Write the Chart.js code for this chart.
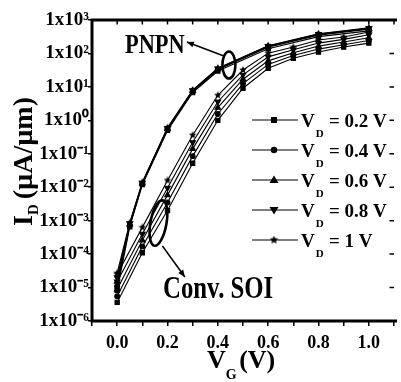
<!DOCTYPE html>
<html><head><meta charset="utf-8">
<script src="https://cdn.jsdelivr.net/npm/chart.js@4.4.0/dist/chart.umd.min.js"></script>
<style>html,body{margin:0;padding:0;background:#fff;}#c{display:block;}</style>
</head><body>
<canvas id="c" width="401" height="382"></canvas>
<script>
// ---- data ----
const vdLabels = ['0.2', '0.4', '0.6', '0.8', '1'];
const vgPNPN = [0, 0.05, 0.1, 0.2, 0.3, 0.4, 0.6, 0.8, 1.0];
const idPNPN_02 = [8.3e-6, 6.6e-4, 1.2e-2, 0.50, 6.8, 30, 138, 320, 470];
const idPNPN_04 = [1.1e-5, 7.3e-4, 1.25e-2, 0.54, 7.3, 33, 155, 355, 530];
const idPNPN_06 = [1.5e-5, 7.8e-4, 1.3e-2, 0.56, 7.6, 34, 162, 368, 552];
const idPNPN_08 = [2.0e-5, 8.2e-4, 1.35e-2, 0.58, 7.8, 35, 166, 376, 565];
const idPNPN_10 = [2.7e-5, 8.6e-4, 1.4e-2, 0.60, 8.0, 36, 170, 385, 580];
const vgSOI = [0, 0.1, 0.2, 0.3, 0.4, 0.5, 0.6, 0.7, 0.8, 0.9, 1.0];
const idSOI_02 = [3.6e-6, 1.1e-4, 2.0e-3, 5.2e-2, 1.0, 9.1, 36, 72, 110, 155, 204];
const idSOI_04 = [5.5e-6, 1.7e-4, 3.5e-3, 8.5e-2, 1.55, 12.6, 47, 87, 135, 182, 245];
const idSOI_06 = [8.9e-6, 2.6e-4, 5.8e-3, 0.14, 2.4, 17, 60, 105, 166, 219, 295];
const idSOI_08 = [1.5e-5, 4.0e-4, 9.5e-3, 0.22, 3.6, 23, 79, 129, 204, 263, 363];
const idSOI_10 = [2.5e-5, 6.3e-4, 1.6e-2, 0.36, 5.6, 32, 102, 155, 251, 309, 437];
const yTickValues = [1e-6, 1e-5, 1e-4, 1e-3, 1e-2, 1e-1, 1, 1e1, 1e2, 1e3];
const yTickExponents = ['-6', '-5', '-4', '-3', '-2', '-1', '0', '1', '2', '3'];
const xTickValues = [-0.1, 0, 0.1, 0.2, 0.3, 0.4, 0.5, 0.6, 0.7, 0.8, 0.9, 1.0, 1.1];
const xLabelValues = [0, 0.2, 0.4, 0.6, 0.8, 1.0];
const xTickLabels = ['0.0', '0.2', '0.4', '0.6', '0.8', '1.0'];

const FONT = "'Liberation Serif','Times New Roman',serif";
const SUP = {'-':'\u207B','0':'\u2070','1':'\u00B9','2':'\u00B2','3':'\u00B3','4':'\u2074','5':'\u2075','6':'\u2076','7':'\u2077','8':'\u2078','9':'\u2079'};
const toSup = s => s.split('').map(c => SUP[c]).join('');

function makeStar(size) {
  const c = document.createElement('canvas');
  c.width = size; c.height = size;
  const g = c.getContext('2d');
  const cx = size / 2, cy = size / 2, R = size / 2, r = R * 0.45;
  g.beginPath();
  for (let i = 0; i < 10; i++) {
    const a = -Math.PI / 2 + i * Math.PI / 5;
    const rr = i % 2 ? r : R;
    g.lineTo(cx + rr * Math.cos(a), cy + rr * Math.sin(a));
  }
  g.closePath(); g.fillStyle = '#000'; g.fill();
  return c;
}
const starSmall = makeStar(8);
const starLegend = makeStar(9);

const markers = [
  {pointStyle: 'rect', pointRadius: 3},
  {pointStyle: 'circle', pointRadius: 2.4},
  {pointStyle: 'triangle', pointRadius: 3.2},
  {pointStyle: 'triangle', pointRadius: 3.2, pointRotation: 180},
  {pointStyle: starSmall, pointRadius: 4}
];
const pnpnSeries = [idPNPN_02, idPNPN_04, idPNPN_06, idPNPN_08, idPNPN_10];
const soiSeries = [idSOI_02, idSOI_04, idSOI_06, idSOI_08, idSOI_10];

const datasets = [];
pnpnSeries.forEach((arr, i) => datasets.push(Object.assign({
  label: 'PNPN VD=' + vdLabels[i],
  data: vgPNPN.map((x, j) => ({x: x, y: arr[j]})),
  borderColor: '#000', backgroundColor: '#000', borderWidth: 1.2, tension: 0
}, markers[i])));
soiSeries.forEach((arr, i) => datasets.push(Object.assign({
  label: 'SOI VD=' + vdLabels[i],
  data: vgSOI.map((x, j) => ({x: x, y: arr[j]})),
  borderColor: '#000', backgroundColor: '#000', borderWidth: 1.1, tension: 0
}, markers[i])));

// annotation anchor points in data coordinates
const annPNPN = {ell: [0.444, 45], arrowFrom: [0.424, 84], arrowTo: [0.277, 220], text: [0.031, 2.2e2]};
const annSOI = {ell: [0.164, 8.5e-4], arrowFrom: [0.18, 1.75e-4], arrowTo: [0.269, 2.07e-5]};

function drawParts(ctx, x, y, parts) {
  let cx = x;
  for (const p of parts) {
    ctx.font = 'bold ' + p.size + 'px ' + FONT;
    cx += (p.dx || 0);
    ctx.fillText(p.t, cx, y + (p.dy || 0));
    cx += ctx.measureText(p.t).width;
  }
}
function arrow(ctx, x1, y1, x2, y2) {
  ctx.lineWidth = 1.5;
  ctx.beginPath(); ctx.moveTo(x1, y1); ctx.lineTo(x2, y2); ctx.stroke();
  const a = Math.atan2(y2 - y1, x2 - x1), L = 7, W = 3;
  ctx.beginPath();
  ctx.moveTo(x2, y2);
  ctx.lineTo(x2 - L * Math.cos(a) + W * Math.sin(a), y2 - L * Math.sin(a) - W * Math.cos(a));
  ctx.lineTo(x2 - L * Math.cos(a) - W * Math.sin(a), y2 - L * Math.sin(a) + W * Math.cos(a));
  ctx.closePath(); ctx.fill();
}
function legendMarker(ctx, i, x, y) {
  ctx.beginPath();
  if (i === 0) { ctx.rect(x - 3, y - 3, 6, 6); ctx.fill(); }
  else if (i === 1) { ctx.arc(x, y, 3.2, 0, Math.PI * 2); ctx.fill(); }
  else if (i === 2) { ctx.moveTo(x, y - 4.5); ctx.lineTo(x + 4.5, y + 3); ctx.lineTo(x - 4.5, y + 3); ctx.closePath(); ctx.fill(); }
  else if (i === 3) { ctx.moveTo(x, y + 4.5); ctx.lineTo(x + 4.5, y - 3); ctx.lineTo(x - 4.5, y - 3); ctx.closePath(); ctx.fill(); }
  else { ctx.drawImage(starLegend, x - 4.5, y - 4.5); }
}

const deco = {
  id: 'deco',
  afterDraw(chart) {
    const {ctx, chartArea: a, scales: {x, y}} = chart;
    ctx.save();
    ctx.strokeStyle = '#000'; ctx.fillStyle = '#000';
    // frame
    ctx.lineWidth = 3;
    ctx.beginPath();
    ctx.moveTo(a.left, a.bottom + 1.5); ctx.lineTo(a.left, a.top); ctx.lineTo(a.right + 3, a.top);
    ctx.moveTo(a.left - 1.5, a.bottom); ctx.lineTo(a.right + 3, a.bottom);
    ctx.stroke();
    // mirrored inner ticks (top and right)
    ctx.lineWidth = 1.5;
    ctx.beginPath();
    xTickValues.forEach(v => { const px = x.getPixelForValue(v); ctx.moveTo(px, a.top); ctx.lineTo(px, a.top + 4.5); });
    yTickValues.forEach(v => { const py = y.getPixelForValue(v); ctx.moveTo(a.right, py); ctx.lineTo(a.right - 4.5, py); });
    ctx.stroke();

    // ellipses + arrows
    ctx.lineWidth = 2.6;
    ctx.beginPath();
    ctx.ellipse(x.getPixelForValue(annPNPN.ell[0]), y.getPixelForValue(annPNPN.ell[1]), 6.5, 13.5, 0, 0, Math.PI * 2);
    ctx.stroke();
    ctx.beginPath();
    ctx.ellipse(x.getPixelForValue(annSOI.ell[0]), y.getPixelForValue(annSOI.ell[1]), 8, 23, 0.18, 0, Math.PI * 2);
    ctx.stroke();
    arrow(ctx, x.getPixelForValue(annPNPN.arrowFrom[0]), y.getPixelForValue(annPNPN.arrowFrom[1]),
               x.getPixelForValue(annPNPN.arrowTo[0]), y.getPixelForValue(annPNPN.arrowTo[1]));
    arrow(ctx, x.getPixelForValue(annSOI.arrowFrom[0]), y.getPixelForValue(annSOI.arrowFrom[1]),
               x.getPixelForValue(annSOI.arrowTo[0]), y.getPixelForValue(annSOI.arrowTo[1]));

    // annotation texts (slightly condensed)
    ctx.textBaseline = 'alphabetic'; ctx.textAlign = 'left';
    ctx.save(); ctx.translate(125, 53); ctx.scale(0.83, 1);
    ctx.font = 'bold 27px ' + FONT; ctx.fillText('PNPN', 0, 0); ctx.restore();
    ctx.save(); ctx.translate(163, 298); ctx.scale(0.8, 1);
    ctx.font = 'bold 31px ' + FONT; ctx.fillText('Conv. SOI', 0, 0); ctx.restore();

    // legend
    vdLabels.forEach((lab, i) => {
      const ly = 120 + i * 30;
      ctx.lineWidth = 1.2;
      ctx.beginPath(); ctx.moveTo(252, ly); ctx.lineTo(298, ly); ctx.stroke();
      legendMarker(ctx, i, 274, ly);
      drawParts(ctx, 301, ly + 7, [
        {t: 'V', size: 19},
        {t: 'D', size: 11, dy: 10, dx: 1},
        {t: ' = ' + lab + ' V', size: 19, dx: 0.5}
      ]);
    });

    // axis titles
    drawParts(ctx, 207, 368, [
      {t: 'V', size: 26},
      {t: 'G', size: 14, dy: 11},
      {t: ' (V)', size: 26, dx: -4}
    ]);
    ctx.save(); ctx.translate(32, 226); ctx.rotate(-Math.PI / 2);
    drawParts(ctx, 0, 0, [
      {t: 'I', size: 28},
      {t: 'D', size: 15, dy: 6},
      {t: ' (\u00B5A/\u00B5m)', size: 28, dx: -2}
    ]);
    ctx.restore();
    ctx.restore();
  }
};

new Chart(document.getElementById('c'), {
  type: 'line',
  data: {datasets: datasets},
  options: {
    responsive: false, animation: false,
    layout: {padding: {top: 20, right: 0, left: 0, bottom: 0}},
    plugins: {legend: {display: false}, tooltip: {enabled: false}},
    scales: {
      x: {
        type: 'linear', min: -0.1, max: 1.1,
        afterBuildTicks: s => { s.ticks = xTickValues.map(v => ({value: v})); },
        afterFit: s => { s.height = 61; },
        ticks: {
          autoSkip: false, maxRotation: 0, padding: 7, color: '#000',
          font: {family: FONT, size: 18, weight: 'bold'},
          callback: v => {
            const k = xLabelValues.findIndex(t => Math.abs(t - v) < 1e-6);
            return k >= 0 ? xTickLabels[k] : '';
          }
        },
        grid: {drawOnChartArea: false, drawTicks: true, tickLength: 5, color: '#000', lineWidth: 1.5},
        border: {display: false}
      },
      y: {
        type: 'logarithmic', min: 1e-6, max: 1e3,
        afterBuildTicks: s => { s.ticks = yTickValues.map(v => ({value: v, major: true})); },
        afterFit: s => { s.width = 92; },
        ticks: {
          autoSkip: false, padding: -1, color: '#000',
          font: {family: FONT, size: 19, weight: 'bold'},
          callback: (v, i) => {
            const k = yTickValues.findIndex(t => Math.abs(Math.log10(t) - Math.log10(v)) < 1e-6);
            return k >= 0 ? '1x10' + toSup(yTickExponents[k]) : '';
          }
        },
        grid: {drawOnChartArea: false, drawTicks: true, tickLength: 4, color: '#000', lineWidth: 1.5},
        border: {display: false}
      }
    }
  },
  plugins: [deco]
});
</script>
</body></html>
